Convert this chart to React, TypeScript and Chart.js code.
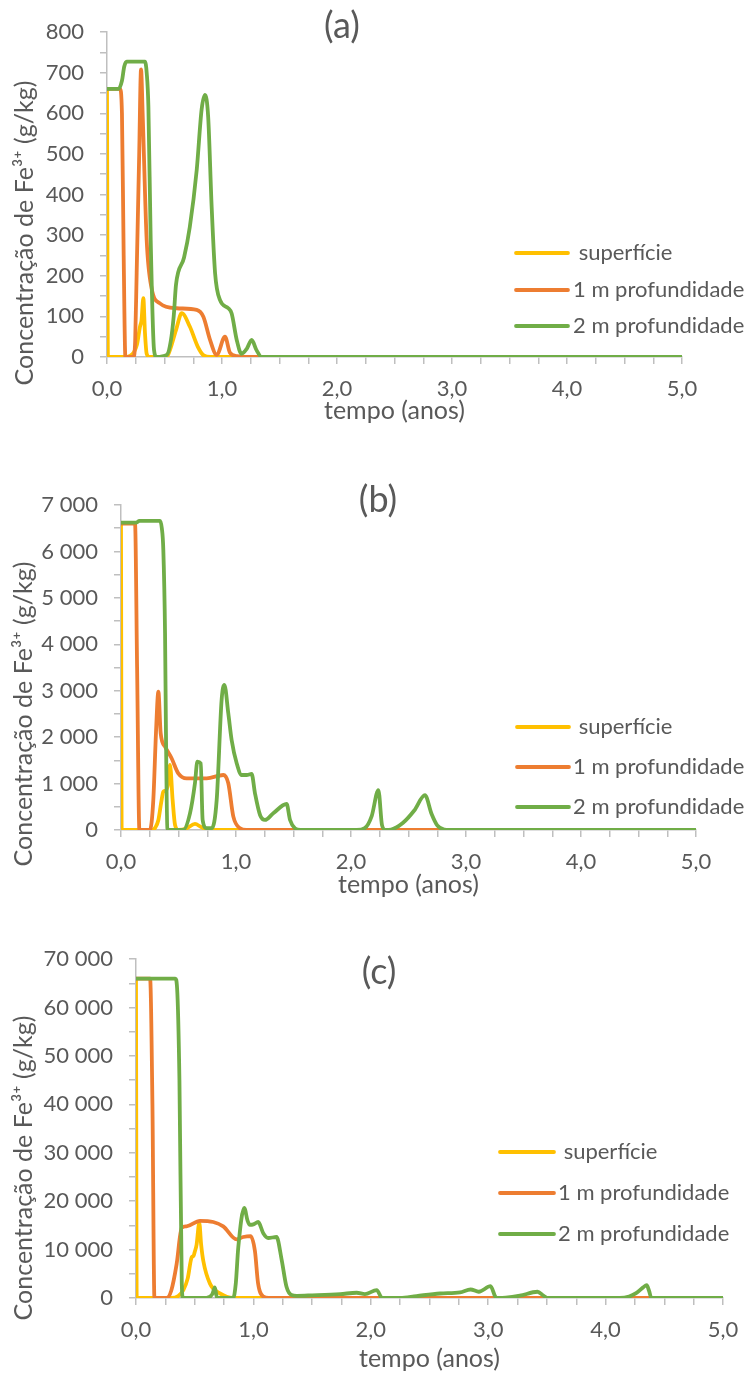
import React, { useEffect, useRef } from 'react';
import { Chart, registerables } from 'chart.js';

Chart.register(...registerables);

const FONT = 'Lato, "Open Sans", sans-serif';
const TEXT_COLOR = '#595959';
const AXIS_COLOR = '#BFBFBF';
const COLORS = ['#FFC000', '#ED7D31', '#70AD47'];
const SERIES_NAMES = [' superfície', '1 m profundidade', '2 m profundidade'];
const X_TICK_LABELS = ['0,0', '1,0', '2,0', '3,0', '4,0', '5,0'];
const Y_TICK_LABELS_A = ['0', '100', '200', '300', '400', '500', '600', '700', '800'];
const Y_TICK_LABELS_B = ['0', '1 000', '2 000', '3 000', '4 000', '5 000', '6 000', '7 000'];
const Y_TICK_LABELS_C = ['0', '10 000', '20 000', '30 000', '40 000', '50 000', '60 000', '70 000'];
const PANEL_TITLES = ['(a)', '(b)', '(c)'];
const X_TITLE = 'tempo (anos)';
const Y_TITLE = 'Concentração de Fe³⁺ (g/kg)';

// ---------- panel (a) ----------
const tA_sup = [0, 0.008, 0.15, 0.2, 0.26, 0.287, 0.3, 0.316, 0.33, 0.345, 0.37, 0.5, 0.53, 0.6, 0.65, 0.72, 0.79, 0.84, 0.9, 5];
const vA_sup = [660, 0, 0, 3, 30, 75, 90, 145, 60, 8, 0, 0, 5, 66, 108, 75, 25, 4, 0, 0];
const tA_m1 = [0, 0.113, 0.13, 0.145, 0.16, 0.23, 0.245, 0.258, 0.28, 0.296, 0.31, 0.345, 0.388, 0.46, 0.606, 0.78, 0.838, 0.896, 0.954, 1.026, 1.07, 1.13, 1.2, 5];
const vA_m1 = [660, 660, 600, 250, 0, 0, 40, 207, 500, 708, 600, 288, 169, 132, 120, 116, 99, 42, 5, 50, 10, 2, 0, 0];
const tA_m2 = [0, 0.1, 0.13, 0.15, 0.171, 0.33, 0.345, 0.36, 0.38, 0.409, 0.43, 0.52, 0.555, 0.58, 0.6, 0.67, 0.72, 0.78, 0.823, 0.852, 0.88, 0.91, 0.94, 0.983, 1.055, 1.084, 1.128, 1.17, 1.215, 1.258, 1.3, 1.346, 5];
const vA_m2 = [660, 660, 680, 715, 727, 727, 700, 616, 288, 17, 0, 5, 40, 100, 178, 245, 320, 460, 610, 645, 590, 370, 206, 140, 120, 107, 42, 8, 20, 42, 17, 0, 0];

// ---------- panel (b) ----------
const tB_sup = [0, 0.006, 0.267, 0.3, 0.325, 0.35, 0.368, 0.39, 0.41, 0.426, 0.449, 0.47, 0.5, 0.571, 0.643, 0.7, 0.78, 5];
const vB_sup = [6600, 0, 0, 60, 216, 600, 826, 850, 1000, 1400, 646, 108, 0, 36, 130, 60, 0, 0];
const tB_m1 = [0, 0.122, 0.14, 0.16, 0.252, 0.281, 0.304, 0.325, 0.345, 0.383, 0.44, 0.498, 0.571, 0.745, 0.89, 0.933, 0.977, 1.035, 1.09, 5];
const vB_m1 = [6600, 6600, 3500, 0, 0, 650, 2083, 2981, 2083, 1796, 1545, 1221, 1113, 1113, 1185, 1006, 287, 36, 0, 0];
const tB_m2 = [0, 0.135, 0.16, 0.339, 0.355, 0.368, 0.383, 0.391, 0.403, 0.42, 0.54, 0.6, 0.643, 0.664, 0.693, 0.71, 0.745, 0.79, 0.832, 0.875, 0.899, 0.933, 0.962, 1.006, 1.049, 1.093, 1.136, 1.165, 1.209, 1.252, 1.324, 1.44, 1.47, 1.513, 1.56, 2.05, 2.12, 2.18, 2.238, 2.27, 2.3, 2.35, 2.45, 2.55, 2.643, 2.7, 2.75, 2.81, 2.86, 5];
const vB_m2 = [6620, 6620, 6660, 6660, 6500, 6034, 4239, 2083, 36, 0, 0, 359, 1006, 1473, 1437, 216, 40, 40, 646, 2802, 3125, 2514, 1940, 1437, 1185, 1185, 1207, 790, 323, 216, 359, 560, 216, 36, 0, 0, 40, 300, 860, 100, 0, 10, 150, 420, 750, 350, 100, 10, 0, 0];

// ---------- panel (c) ----------
const tC_sup = [0, 0.006, 0.3, 0.36, 0.403, 0.44, 0.474, 0.49, 0.5, 0.516, 0.539, 0.555, 0.573, 0.63, 0.715, 0.83, 5];
const vC_sup = [66000, 0, 0, 400, 1620, 4000, 8400, 8700, 9500, 11000, 15500, 11000, 7700, 2975, 950, 0, 0];
const tC_m1 = [0, 0.12, 0.14, 0.157, 0.26, 0.3, 0.346, 0.389, 0.43, 0.545, 0.658, 0.743, 0.857, 0.913, 0.976, 1.013, 1.04, 1.084, 1.13, 5];
const vC_m1 = [66000, 66000, 40000, 0, 0, 1500, 7000, 14500, 14800, 15950, 15700, 14800, 12100, 12600, 12800, 9700, 3000, 300, 0, 0];
const tC_m2 = [0, 0.335, 0.35, 0.37, 0.39, 0.4, 0.6, 0.65, 0.672, 0.69, 0.828, 0.85, 0.871, 0.922, 0.95, 0.97, 1.0, 1.041, 1.084, 1.126, 1.197, 1.24, 1.282, 1.325, 1.37, 1.5, 1.74, 1.88, 1.95, 2.05, 2.09, 2.1, 2.25, 2.39, 2.59, 2.76, 2.85, 2.92, 3.02, 3.06, 3.08, 3.15, 3.27, 3.42, 3.47, 3.51, 4.12, 4.2, 4.26, 4.32, 4.35, 4.37, 4.39, 5];
const vC_m2 = [66000, 66000, 64000, 45000, 3000, 0, 0, 800, 2200, 0, 0, 3000, 10400, 18600, 16000, 15100, 15200, 15700, 13400, 12400, 12600, 8000, 2300, 600, 450, 550, 800, 1080, 800, 1620, 100, 0, 0, 400, 930, 1150, 1760, 1290, 2440, 300, 0, 50, 470, 1290, 500, 0, 0, 300, 1000, 2200, 2640, 1500, 0, 0];

type Panel = {
  title: string;
  height: number;
  left: number;
  right: number;
  top: number;
  bottom: number;
  yMax: number;
  yStep: number;
  yLabelStep: number;
  yLabels: string[];
  xTitlePad: number;
  titlePos: [number, number];
  yTitlePos: [number, number];
  legendX: [number, number, number];
  legendY: number[];
  series: [number[], number[]][];
};

const PANELS: Panel[] = [
  {
    title: PANEL_TITLES[0], height: 470, left: 107, right: 682, top: 32, bottom: 357,
    yMax: 800, yStep: 50, yLabelStep: 100, yLabels: Y_TICK_LABELS_A, xTitlePad: 44,
    titlePos: [342, 26], yTitlePos: [33, 233], legendX: [516, 568, 573], legendY: [253, 290, 326],
    series: [[tA_sup, vA_sup], [tA_m1, vA_m1], [tA_m2, vA_m2]],
  },
  {
    title: PANEL_TITLES[1], height: 460, left: 121, right: 696, top: 35, bottom: 360,
    yMax: 7000, yStep: 500, yLabelStep: 1000, yLabels: Y_TICK_LABELS_B, xTitlePad: 30,
    titlePos: [378, 30], yTitlePos: [32, 244], legendX: [517, 569, 573], legendY: [257, 297, 337],
    series: [[tB_sup, vB_sup], [tB_m1, vB_m1], [tB_m2, vB_m2]],
  },
  {
    title: PANEL_TITLES[2], height: 446, left: 136, right: 723, top: 23, bottom: 368,
    yMax: 70000, yStep: 5000, yLabelStep: 10000, yLabels: Y_TICK_LABELS_C, xTitlePad: 2,
    titlePos: [379, 42], yTitlePos: [32, 238], legendX: [500, 554, 558], legendY: [222, 263, 304],
    series: [[tC_sup, vC_sup], [tC_m1, vC_m1], [tC_m2, vC_m2]],
  },
];

function makeOverlay(p: Panel) {
  return {
    id: 'overlay',
    afterDraw(chart: any) {
      const ctx = chart.ctx as CanvasRenderingContext2D;
      ctx.save();
      ctx.fillStyle = TEXT_COLOR;
      ctx.font = `36px ${FONT}`;
      ctx.textAlign = 'center';
      ctx.textBaseline = 'middle';
      ctx.fillText(p.title, p.titlePos[0], p.titlePos[1]);

      ctx.save();
      ctx.translate(p.yTitlePos[0], p.yTitlePos[1]);
      ctx.rotate(-Math.PI / 2);
      ctx.font = `25px ${FONT}`;
      ctx.textAlign = 'center';
      ctx.textBaseline = 'alphabetic';
      ctx.fillText(Y_TITLE, 0, 0);
      ctx.restore();

      ctx.font = `22px ${FONT}`;
      ctx.textAlign = 'left';
      ctx.textBaseline = 'middle';
      p.legendY.forEach((y, i) => {
        ctx.strokeStyle = COLORS[i];
        ctx.lineWidth = 3.8;
        ctx.lineCap = 'round';
        ctx.beginPath();
        ctx.moveTo(p.legendX[0], y);
        ctx.lineTo(p.legendX[1], y);
        ctx.stroke();
        ctx.fillStyle = TEXT_COLOR;
        ctx.fillText(SERIES_NAMES[i], p.legendX[2], y);
      });
      ctx.restore();
    },
  };
}

function ChartPanel({ p }: { p: Panel }) {
  const ref = useRef<HTMLCanvasElement>(null);
  useEffect(() => {
    const canvas = ref.current!;
    const W = 753;
    const chart = new Chart(canvas, {
      type: 'line',
      data: {
        datasets: p.series.map(([ts, vs], i) => ({
          label: SERIES_NAMES[i],
          data: ts.map((t, k) => ({ x: t, y: vs[k] })),
          borderColor: COLORS[i],
          backgroundColor: COLORS[i],
          borderWidth: 3.8,
          pointRadius: 0,
          fill: false,
          cubicInterpolationMode: 'monotone' as const,
          order: 3 - i,
        })),
      },
      options: {
        animation: false,
        responsive: false,
        devicePixelRatio: 1,
        layout: { padding: { left: 0, top: p.top, right: W - p.right, bottom: 0 } },
        plugins: { legend: { display: false }, tooltip: { enabled: false }, title: { display: false } },
        scales: {
          x: {
            type: 'linear',
            min: 0,
            max: 5,
            afterFit: (s: any) => { s.height = p.height - p.bottom; },
            border: { display: true, color: AXIS_COLOR, width: 1.5 },
            grid: { drawOnChartArea: false, drawTicks: true, tickLength: 7, color: AXIS_COLOR, lineWidth: 1.5 },
            ticks: {
              stepSize: 0.25,
              autoSkip: false,
              maxRotation: 0,
              padding: 12,
              color: TEXT_COLOR,
              font: { family: FONT, size: 22 },
              callback: (v: any) => (Number.isInteger(v) ? X_TICK_LABELS[v] : ''),
            },
            title: {
              display: true,
              text: X_TITLE,
              color: TEXT_COLOR,
              font: { family: FONT, size: 25 },
              padding: { top: 0, bottom: p.xTitlePad },
            },
          },
          y: {
            type: 'linear',
            min: 0,
            max: p.yMax,
            afterFit: (s: any) => { s.width = p.left; },
            border: { display: true, color: AXIS_COLOR, width: 1.5 },
            grid: { drawOnChartArea: false, drawTicks: true, tickLength: 7, color: AXIS_COLOR, lineWidth: 1.5 },
            ticks: {
              stepSize: p.yStep,
              autoSkip: false,
              padding: 16,
              color: TEXT_COLOR,
              font: { family: FONT, size: 22 },
              callback: (v: any) => (v % p.yLabelStep === 0 ? p.yLabels[v / p.yLabelStep] : ''),
            },
          },
        },
      },
      plugins: [makeOverlay(p)],
    } as any);
    return () => chart.destroy();
  }, [p]);
  return (
    <canvas
      ref={ref}
      width={753}
      height={p.height}
      style={{ display: 'block', width: 753, height: p.height }}
    />
  );
}

export default function App() {
  return (
    <div style={{ position: 'absolute', left: 0, top: 0, width: 753, height: 1376, background: '#ffffff' }}>
      {PANELS.map((p) => (
        <ChartPanel key={p.title} p={p} />
      ))}
    </div>
  );
}
